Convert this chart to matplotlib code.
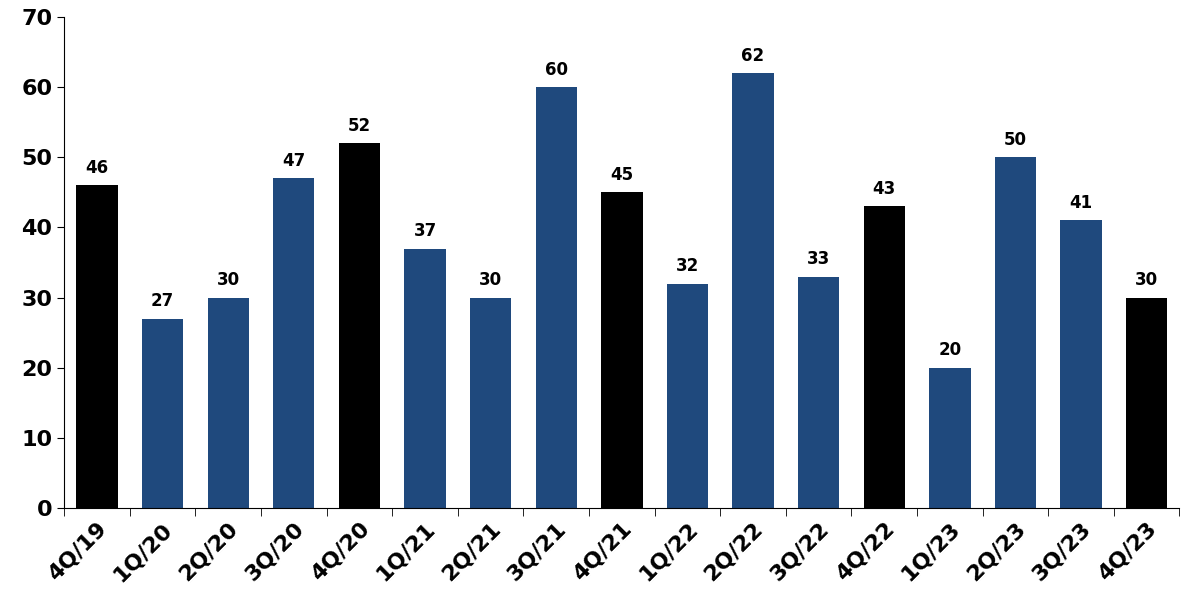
import matplotlib.pyplot as plt
import numpy as np

quarters = ["4Q/19", "1Q/20", "2Q/20", "3Q/20", "4Q/20", "1Q/21", "2Q/21", "3Q/21", "4Q/21",
            "1Q/22", "2Q/22", "3Q/22", "4Q/22", "1Q/23", "2Q/23", "3Q/23", "4Q/23"]
values = [46, 27, 30, 47, 52, 37, 30, 60, 45, 32, 62, 33, 43, 20, 50, 41, 30]

blue = "#1F497D"
colors = ["black" if q.startswith("4Q") else blue for q in quarters]

fig = plt.figure(figsize=(11.89, 6.12), dpi=100)
ax = fig.add_axes([0.054, 0.17, 0.938, 0.802])
x = np.arange(len(values))
ax.bar(x, values, width=0.63, color=colors)
for xi, v in zip(x, values):
    ax.text(xi, v + 1.2, str(v), ha="center", va="bottom", fontsize=12, fontweight="bold")

ax.set_xlim(-0.47, len(values) - 0.62)
ax.set_ylim(0, 70)
ax.set_yticks(range(0, 71, 10))
ax.set_yticklabels([str(t) for t in range(0, 71, 10)], fontsize=16, fontweight="bold")
ax.set_xticks(x)
ax.set_xticklabels(quarters, rotation=45, ha="right", rotation_mode="anchor",
                   fontsize=16, fontweight="bold")
ax.tick_params(axis="x", length=0, pad=8)
ax.set_xticks(np.arange(-0.5, len(values), 1), minor=True)
ax.tick_params(axis="x", which="minor", length=6)
ax.tick_params(axis="y", length=5)
ax.spines["top"].set_visible(False)
ax.spines["right"].set_visible(False)

fig.savefig("out.png", dpi=100)
